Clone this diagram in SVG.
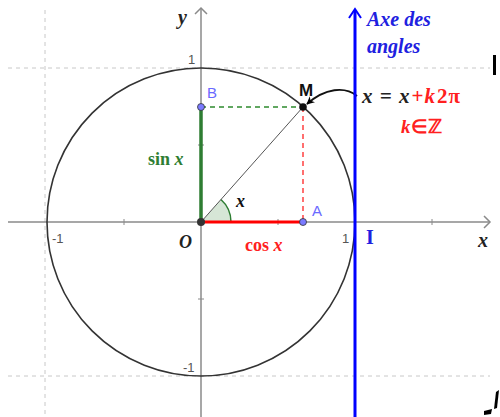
<svg xmlns="http://www.w3.org/2000/svg" width="500" height="417" viewBox="0 0 500 417">
<defs>
<style>
.grid{stroke:#c8c8c8;stroke-width:1;stroke-dasharray:4 4;fill:none}
.axis{stroke:#8a8a8a;stroke-width:1.5;fill:none}
.tick{font-family:"Liberation Sans",Arial,sans-serif;font-size:13px;fill:#555}
.ser{font-family:"Liberation Serif","Times New Roman",serif;font-weight:bold}
.it{font-style:italic}
.up{font-style:normal}
.pt{font-family:"Liberation Sans",Arial,sans-serif;font-size:15px}
</style>
<marker id="ah" viewBox="0 0 10 10" refX="9" refY="5" markerWidth="8" markerHeight="8" orient="auto-start-reverse" markerUnits="userSpaceOnUse">
<path d="M0,0 L10,5 L0,10 L3,5 z" fill="#000"/>
</marker>
</defs>
<rect width="500" height="417" fill="#fff"/>
<g id="grid">
<line class="grid" x1="8" y1="68" x2="490" y2="68"/>
<line class="grid" x1="8" y1="376" x2="490" y2="376"/>
<line class="grid" x1="45" y1="10" x2="45" y2="417" stroke-dasharray="2 6"/>
</g>
<g id="axes">
<line class="axis" x1="8" y1="222" x2="490" y2="222"/>
<polyline class="axis" points="484,216 490,222 484,228"/>
<line class="axis" x1="201" y1="417" x2="201" y2="8"/>
<polyline class="axis" points="195,14 201,8 207,14"/>
<g stroke="#8a8a8a" stroke-width="1">
<line x1="124" y1="219" x2="124" y2="225"/>
<line x1="278" y1="219" x2="278" y2="225"/>
<line x1="432" y1="219" x2="432" y2="225"/>
<line x1="198" y1="145" x2="204" y2="145"/>
<line x1="198" y1="299" x2="204" y2="299"/>
</g>
<text class="tick" x="52" y="243">-1</text>
<text class="tick" x="342" y="243">1</text>
<text class="tick" x="188" y="64">1</text>
<text class="tick" x="183" y="372">-1</text>
<text class="ser it" x="178" y="24" font-size="20" fill="#222">y</text>
<text class="ser it" x="478" y="247" font-size="20" fill="#222">x</text>
<text class="ser it" x="179" y="248" font-size="18" fill="#222">O</text>
</g>
<g id="circle">
<circle cx="201" cy="222" r="154" fill="none" stroke="#333" stroke-width="1.6"/>
</g>
<g id="angle">
<path d="M201,222 L231,222 A30,30 0 0 0 220.9,199.5 Z" fill="#d6e6d6" stroke="none"/>
<path d="M231,222 A30,30 0 0 0 220.9,199.5" fill="none" stroke="#2e7d32" stroke-width="1.5"/>
<text class="ser it" x="236" y="207" font-size="18" fill="#111">x</text>
</g>
<g id="connectors">
<line x1="201" y1="222" x2="303" y2="107" stroke="#555" stroke-width="1"/>
<line x1="201" y1="107" x2="303" y2="107" stroke="#2e8b2e" stroke-width="1.5" stroke-dasharray="5 4"/>
<line x1="303" y1="107" x2="303" y2="222" stroke="#ff4040" stroke-width="1.5" stroke-dasharray="5 4"/>
<line x1="201" y1="222" x2="201" y2="107" stroke="#2e7d32" stroke-width="3.5"/>
<line x1="201" y1="222" x2="303" y2="222" stroke="#ff0000" stroke-width="3"/>
<path d="M357,96 C345,86 325,88 307,104" fill="none" stroke="#111" stroke-width="1.8" marker-end="url(#ah)"/>
</g>
<g id="axe-angles">
<line x1="355" y1="417" x2="355" y2="10" stroke="#0000ff" stroke-width="3"/>
<polyline points="349,18 355,9 361,18" fill="none" stroke="#0000ff" stroke-width="2"/>
<text class="ser it" x="367" y="26" font-size="20" fill="#2020e0">Axe des</text>
<text class="ser it" x="367" y="53" font-size="20" fill="#2020e0">angles</text>
<text class="ser" x="366" y="244" font-size="20" fill="#2020e0">I</text>
</g>
<g id="point-O"><circle cx="201" cy="222" r="4" fill="#333"/></g>
<g id="point-B">
<circle cx="201" cy="107" r="3.5" fill="#7a7aff" stroke="#333" stroke-width="0.8"/>
<text class="pt" x="207" y="98" fill="#6a6aff">B</text>
</g>
<g id="point-A">
<circle cx="303" cy="222" r="3.5" fill="#7a7aff" stroke="#333" stroke-width="0.8"/>
<text class="pt" x="312" y="216" fill="#6a6aff">A</text>
</g>
<g id="point-M">
<circle cx="303" cy="107" r="3.8" fill="#111"/>
<text class="pt" x="299" y="96" style="font-size:17px" fill="#111" font-weight="bold">M</text>
</g>
<g id="labels">
<text class="ser" x="148" y="165" font-size="18" fill="#2e7d32">sin <tspan class="it">x</tspan></text>
<text class="ser" x="245" y="251" font-size="18" fill="#ff2020">cos <tspan class="it">x</tspan></text>
<text class="ser it" x="362" y="103" font-size="21" letter-spacing="1" fill="#222">x = x<tspan class="up" fill="#ff2020" dx="1">+</tspan><tspan fill="#ff2020">k</tspan><tspan class="up" fill="#ff2020" dx="1">2π</tspan></text>
<text class="ser it" x="401" y="133" font-size="19" fill="#ff2020">k<tspan class="up">∈ℤ</tspan></text>
</g>
<g id="edge-fragments" fill="#000">
<path d="M493,55 L496,55 L496,75 L493,75 Z"/>
<path d="M496,392 L499,390 L497,408 L494,409 Z"/>
<path d="M484,411 L492,409 L491,414 L484,415 Z"/>
</g>
</svg>
